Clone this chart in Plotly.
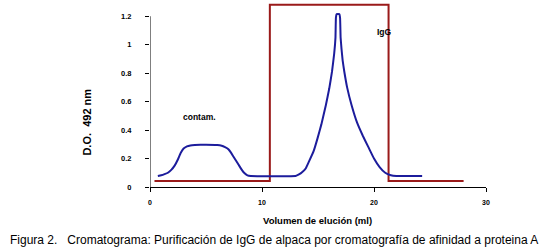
import plotly.graph_objects as go

# Blue elution curve (D.O. 492 nm vs volume)
vol = [0.7, 1.0, 1.3, 1.6, 1.9, 2.2, 2.5, 2.75, 3.0, 3.3, 3.6, 4.0, 5.0, 6.0, 6.4, 6.7,
       7.0, 7.2, 7.4, 7.6, 7.8, 8.0, 8.2, 8.4, 8.7, 9.0,
       13.0, 13.3, 13.6, 13.9, 14.2, 14.6, 14.95, 15.3, 15.7, 16.0, 16.25, 16.45,
       16.56, 16.6, 16.67, 16.9, 16.97, 17.02, 17.1, 17.2, 17.35, 17.6, 18.0, 18.5,
       19.0, 19.5, 20.0, 20.5, 21.0, 21.5, 22.0, 24.3]
od = [0.077, 0.082, 0.09, 0.10, 0.12, 0.15, 0.195, 0.24, 0.27, 0.285, 0.292, 0.295,
      0.297, 0.295, 0.29, 0.28, 0.265, 0.245, 0.22, 0.195, 0.17, 0.145, 0.12, 0.1, 0.082,
      0.077,
      0.077, 0.088, 0.105, 0.13, 0.18, 0.25, 0.34, 0.44, 0.575, 0.69, 0.81, 0.94,
      1.05, 1.19, 1.215, 1.215, 1.19, 1.05, 0.97, 0.89, 0.81, 0.70, 0.575, 0.45,
      0.36, 0.28, 0.20, 0.14, 0.10, 0.083, 0.077, 0.077]

# Red step (fraction collection)
step_x = [0.4, 10.7, 10.7, 21.3, 21.3, 28.0]
step_y = [0.043, 0.043, 1.28, 1.28, 0.043, 0.043]

x_ticks = [0, 10, 20, 30]
y_ticks = [0, 0.2, 0.4, 0.6, 0.8, 1.0, 1.2]
y_tick_text = ["0", "0.2", "0.4", "0.6", "0.8", "1", "1.2"]

FONT = "Arial, Liberation Sans, sans-serif"

fig = go.Figure()
fig.add_trace(go.Scatter(x=step_x, y=step_y, mode="lines",
                         line=dict(color="#9a1a1a", width=2), hoverinfo="skip"))
fig.add_trace(go.Scatter(x=vol, y=od, mode="lines",
                         line=dict(color="#1c1c9c", width=2, shape="spline", smoothing=0.3),
                         hoverinfo="skip"))

fig.update_layout(
    width=550, height=251,
    margin=dict(l=150, r=64, t=2, b=64, autoexpand=False),
    paper_bgcolor="white", plot_bgcolor="white",
    showlegend=False,
    font=dict(family=FONT, color="black"),
    xaxis=dict(range=[0, 30], tickvals=x_ticks, ticks="outside", ticklen=4,
               tickcolor="black", showline=True, linecolor="black", linewidth=1,
               showgrid=False, zeroline=False,
               tickfont=dict(size=7, family=FONT, weight="bold"),
               ticklabelstandoff=5),
    yaxis=dict(range=[0, 1.3], tickvals=y_ticks, ticktext=y_tick_text,
               ticks="outside", ticklen=4, tickcolor="black",
               showline=False, showgrid=False, zeroline=False,
               tickfont=dict(size=7.5, family=FONT, weight="bold"),
               ticklabelstandoff=12),
    shapes=[dict(type="line", xref="x", yref="y", x0=0, x1=0, y0=0, y1=1.2,
                 line=dict(color="black", width=1))],
    annotations=[
        dict(text="contam.", x=4.4, y=0.49, xref="x", yref="y", showarrow=False,
             xanchor="center", yanchor="middle",
             font=dict(size=8.5, family=FONT, weight="bold")),
        dict(text="IgG", x=20.9, y=1.09, xref="x", yref="y", showarrow=False,
             xanchor="center", yanchor="middle",
             font=dict(size=8.5, family=FONT, weight="bold")),
        dict(text="D.O.\u00a0\u00a0492 nm", textangle=-90, x=-0.186, y=0.351,
             xref="paper", yref="paper", showarrow=False,
             xanchor="center", yanchor="middle",
             font=dict(size=11, family=FONT, weight="bold")),
        dict(text="Volumen de elución (ml)", x=0.499, y=-0.18, xref="paper", yref="paper",
             xanchor="center", yanchor="middle",
             showarrow=False, font=dict(size=9.5, family=FONT, weight="bold")),
        dict(text="Figura 2.\u00a0\u00a0\u00a0Cromatograma: Purificación de IgG de alpaca por cromatografía de afinidad a proteina A",
             x=-0.4218, y=-0.286, xref="paper", yref="paper", xanchor="left",
             yanchor="middle",
             showarrow=False, font=dict(size=12, family=FONT)),
    ],
)

fig.write_html("out.html", config={"displayModeBar": False},
               post_script="document.body.style.margin='0';document.body.style.padding='0';")
